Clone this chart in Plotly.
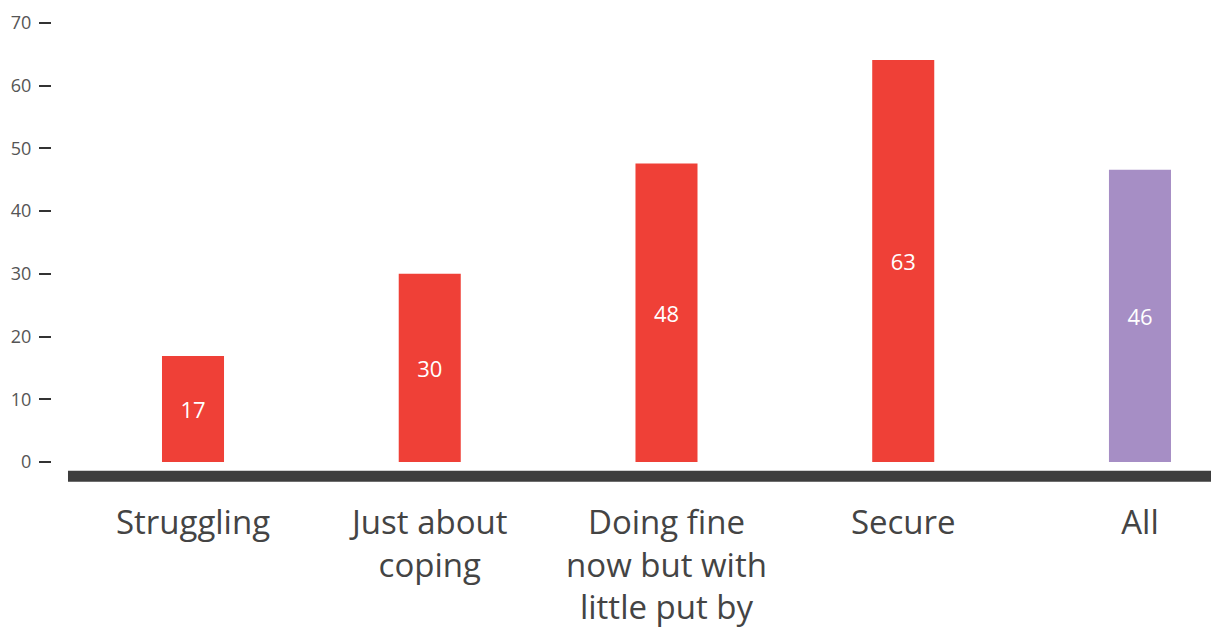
import plotly.graph_objects as go

categories = ["Struggling", "Just about<br>coping", "Doing fine<br>now but with<br>little put by", "Secure", "All"]
values = [16.9, 30.0, 47.6, 64.1, 46.6]
value_labels = ["17", "30", "48", "63", "46"]
bar_colors = ["#EF4037", "#EF4037", "#EF4037", "#EF4037", "#A68EC5"]
y_ticks = [0, 10, 20, 30, 40, 50, 60, 70]

FONT = "'Open Sans', Lato, sans-serif"

x_pos = list(range(len(categories)))

fig = go.Figure(
    go.Bar(
        x=x_pos,
        y=values,
        text=value_labels,
        textposition="inside",
        insidetextanchor="middle",
        textangle=0,
        textfont=dict(color="white", size=22, family=FONT),
        marker=dict(color=bar_colors, line=dict(width=0)),
        width=0.262,
        hoverinfo="skip",
    )
)

fig.add_shape(
    type="rect", xref="paper", yref="y",
    x0=0.0138, x1=1.0, y0=-1.40, y1=-3.16,
    fillcolor="#3d3d3d", line=dict(width=0), layer="above",
)

fig.update_layout(
    width=1211, height=632,
    margin=dict(l=52, r=0, t=0, b=142),
    paper_bgcolor="white", plot_bgcolor="white",
    showlegend=False,
    font=dict(family=FONT),
    xaxis=dict(
        range=[-0.5956, 4.30],
        tickmode="array", tickvals=x_pos, ticktext=categories,
        tickfont=dict(size=33, color="#444444", family=FONT),
        ticks="outside", ticklen=3, tickcolor="rgba(0,0,0,0)",
        showgrid=False, zeroline=False, showline=False,
    ),
    yaxis=dict(
        range=[-4.465, 73.67],
        tickmode="array", tickvals=y_ticks,
        tickfont=dict(size=18, color="#555555", family=FONT),
        ticks="outside", ticklen=12, tickwidth=2, tickcolor="#333333",
        ticklabelstandoff=4,
        showgrid=False, zeroline=False, showline=False,
    ),
)

fig.write_html("out.html")
